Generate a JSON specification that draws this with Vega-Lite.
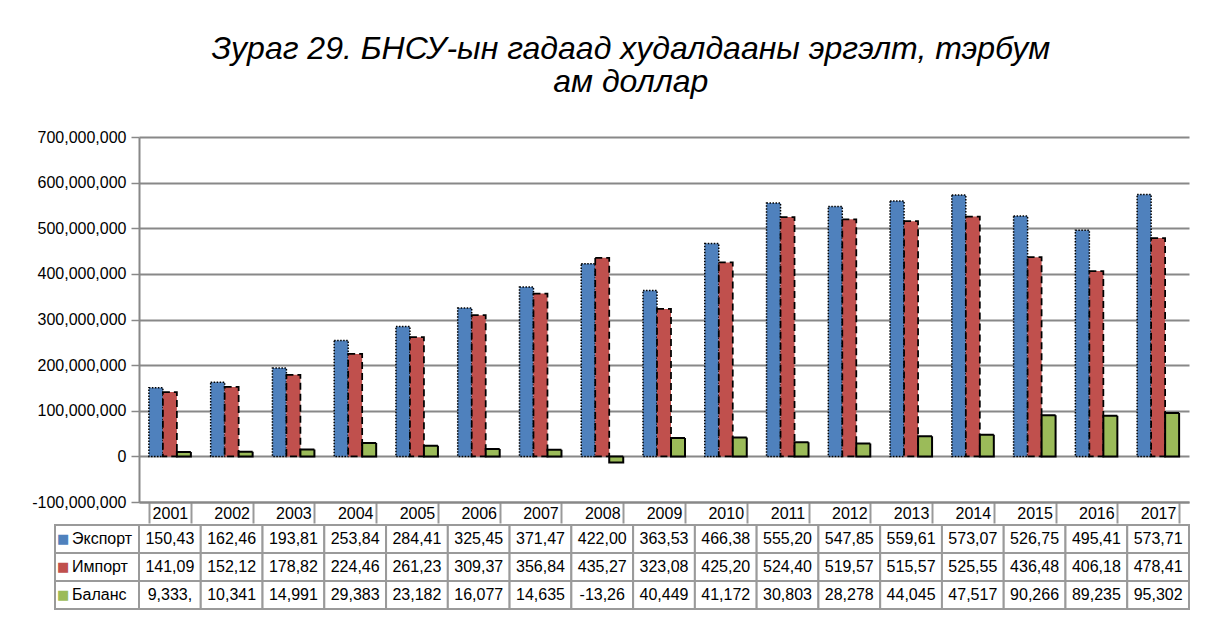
{
  "$schema": "https://vega.github.io/schema/vega-lite/v6.json",
  "padding": {"left": 31, "top": 33, "right": 20, "bottom": 10},
  "background": "white",
  "config": {
    "font": "Liberation Sans",
    "view": {"stroke": null},
    "concat": {"spacing": 0}
  },
  "title": {
    "text": ["Зураг 29. БНСУ-ын гадаад худалдааны эргэлт, тэрбум", "ам доллар"],
    "fontSize": 32,
    "fontStyle": "italic",
    "fontWeight": "normal",
    "color": "black",
    "lineHeight": 33,
    "offset": 30,
    "dx": 20,
    "anchor": "middle"
  },
  "datasets": {
    "trade": [
      {"year": "2001", "series": "Экспорт", "value": 150430000, "label": "150,43"},
      {"year": "2002", "series": "Экспорт", "value": 162460000, "label": "162,46"},
      {"year": "2003", "series": "Экспорт", "value": 193810000, "label": "193,81"},
      {"year": "2004", "series": "Экспорт", "value": 253840000, "label": "253,84"},
      {"year": "2005", "series": "Экспорт", "value": 284410000, "label": "284,41"},
      {"year": "2006", "series": "Экспорт", "value": 325450000, "label": "325,45"},
      {"year": "2007", "series": "Экспорт", "value": 371470000, "label": "371,47"},
      {"year": "2008", "series": "Экспорт", "value": 422000000, "label": "422,00"},
      {"year": "2009", "series": "Экспорт", "value": 363530000, "label": "363,53"},
      {"year": "2010", "series": "Экспорт", "value": 466380000, "label": "466,38"},
      {"year": "2011", "series": "Экспорт", "value": 555200000, "label": "555,20"},
      {"year": "2012", "series": "Экспорт", "value": 547850000, "label": "547,85"},
      {"year": "2013", "series": "Экспорт", "value": 559610000, "label": "559,61"},
      {"year": "2014", "series": "Экспорт", "value": 573070000, "label": "573,07"},
      {"year": "2015", "series": "Экспорт", "value": 526750000, "label": "526,75"},
      {"year": "2016", "series": "Экспорт", "value": 495410000, "label": "495,41"},
      {"year": "2017", "series": "Экспорт", "value": 573710000, "label": "573,71"},
      {"year": "2001", "series": "Импорт", "value": 141090000, "label": "141,09"},
      {"year": "2002", "series": "Импорт", "value": 152120000, "label": "152,12"},
      {"year": "2003", "series": "Импорт", "value": 178820000, "label": "178,82"},
      {"year": "2004", "series": "Импорт", "value": 224460000, "label": "224,46"},
      {"year": "2005", "series": "Импорт", "value": 261230000, "label": "261,23"},
      {"year": "2006", "series": "Импорт", "value": 309370000, "label": "309,37"},
      {"year": "2007", "series": "Импорт", "value": 356840000, "label": "356,84"},
      {"year": "2008", "series": "Импорт", "value": 435270000, "label": "435,27"},
      {"year": "2009", "series": "Импорт", "value": 323080000, "label": "323,08"},
      {"year": "2010", "series": "Импорт", "value": 425200000, "label": "425,20"},
      {"year": "2011", "series": "Импорт", "value": 524400000, "label": "524,40"},
      {"year": "2012", "series": "Импорт", "value": 519570000, "label": "519,57"},
      {"year": "2013", "series": "Импорт", "value": 515570000, "label": "515,57"},
      {"year": "2014", "series": "Импорт", "value": 525550000, "label": "525,55"},
      {"year": "2015", "series": "Импорт", "value": 436480000, "label": "436,48"},
      {"year": "2016", "series": "Импорт", "value": 406180000, "label": "406,18"},
      {"year": "2017", "series": "Импорт", "value": 478410000, "label": "478,41"},
      {"year": "2001", "series": "Баланс", "value": 9333000, "label": "9,333,"},
      {"year": "2002", "series": "Баланс", "value": 10341000, "label": "10,341"},
      {"year": "2003", "series": "Баланс", "value": 14991000, "label": "14,991"},
      {"year": "2004", "series": "Баланс", "value": 29383000, "label": "29,383"},
      {"year": "2005", "series": "Баланс", "value": 23182000, "label": "23,182"},
      {"year": "2006", "series": "Баланс", "value": 16077000, "label": "16,077"},
      {"year": "2007", "series": "Баланс", "value": 14635000, "label": "14,635"},
      {"year": "2008", "series": "Баланс", "value": -13260000, "label": "-13,26"},
      {"year": "2009", "series": "Баланс", "value": 40449000, "label": "40,449"},
      {"year": "2010", "series": "Баланс", "value": 41172000, "label": "41,172"},
      {"year": "2011", "series": "Баланс", "value": 30803000, "label": "30,803"},
      {"year": "2012", "series": "Баланс", "value": 28278000, "label": "28,278"},
      {"year": "2013", "series": "Баланс", "value": 44045000, "label": "44,045"},
      {"year": "2014", "series": "Баланс", "value": 47517000, "label": "47,517"},
      {"year": "2015", "series": "Баланс", "value": 90266000, "label": "90,266"},
      {"year": "2016", "series": "Баланс", "value": 89235000, "label": "89,235"},
      {"year": "2017", "series": "Баланс", "value": 95302000, "label": "95,302"}
    ]
  },
  "vconcat": [
    {
      "width": 1050,
      "height": 365,
      "data": {"name": "trade"},
      "mark": {"type": "bar"},
      "encoding": {
        "x": {
          "field": "year",
          "type": "nominal",
          "title": null,
          "scale": {"paddingInner": 0.32, "paddingOuter": 0.16},
          "axis": {
            "labelAngle": 0,
            "tickBand": "extent",
            "tickSize": 21,
            "tickColor": "#9a9a9a",
            "tickWidth": 2,
            "labelPadding": -18,
            "labelFontSize": 16,
            "labelColor": "black",
            "domainColor": "#888888",
            "domainWidth": 2
          }
        },
        "xOffset": {
          "field": "series",
          "type": "nominal",
          "sort": ["Экспорт", "Импорт", "Баланс"],
          "scale": {"paddingInner": 0, "paddingOuter": 0}
        },
        "y": {
          "field": "value",
          "type": "quantitative",
          "title": null,
          "scale": {"domain": [-100000000, 700000000], "nice": false, "zero": false},
          "axis": {
            "values": [-100000000, 0, 100000000, 200000000, 300000000, 400000000, 500000000, 600000000, 700000000],
            "labelExpr": "replace(format(datum.value, ','), '−', '-')",
            "labelFontSize": 16,
            "labelColor": "black",
            "labelPadding": 5,
            "tickSize": 8,
            "tickColor": "#888888",
            "tickWidth": 1.5,
            "domainColor": "#888888",
            "domainWidth": 2,
            "grid": true,
            "gridColor": "#888888",
            "gridWidth": 2
          }
        },
        "color": {
          "field": "series",
          "type": "nominal",
          "scale": {"domain": ["Экспорт", "Импорт", "Баланс"], "range": ["#4F81BD", "#C0504D", "#9BBB59"]},
          "legend": null
        },
        "stroke": {"value": "black"},
        "strokeWidth": {
          "field": "series",
          "type": "nominal",
          "scale": {"domain": ["Экспорт", "Импорт", "Баланс"], "range": [1.5, 2, 2]},
          "legend": null
        },
        "strokeDash": {
          "field": "series",
          "type": "nominal",
          "scale": {"domain": ["Экспорт", "Импорт", "Баланс"], "range": [[1.5, 1.5], [7, 4], [1, 0]]},
          "legend": null
        }
      }
    },
    {
      "width": 1050,
      "height": 84,
      "data": {"name": "trade"},
      "encoding": {
        "y": {
          "field": "series",
          "type": "nominal",
          "sort": ["Экспорт", "Импорт", "Баланс"],
          "scale": {"paddingInner": 0, "paddingOuter": 0},
          "axis": null
        }
      },
      "layer": [
        {
          "mark": {"type": "rect", "fill": "white", "stroke": "#9a9a9a", "strokeWidth": 2},
          "encoding": {
            "x": {"field": "year", "type": "nominal", "scale": {"paddingInner": 0, "paddingOuter": 0}, "axis": null}
          }
        },
        {
          "mark": {"type": "text", "fontSize": 16, "color": "black", "align": "center", "baseline": "middle"},
          "encoding": {
            "x": {"field": "year", "type": "nominal", "scale": {"paddingInner": 0, "paddingOuter": 0}, "axis": null},
            "text": {"field": "label", "type": "nominal"}
          }
        },
        {
          "transform": [{"filter": "datum.year === '2001'"}],
          "mark": {"type": "rect", "fill": "white", "stroke": "#9a9a9a", "strokeWidth": 2},
          "encoding": {
            "x": {"datum": "legend", "type": "nominal", "scale": {"domain": ["legend"], "range": [-84, 0], "paddingInner": 0, "paddingOuter": 0}, "axis": null}
          }
        },
        {
          "transform": [{"filter": "datum.year === '2001'"}],
          "mark": {"type": "text", "text": "■", "fontSize": 13, "font": "DejaVu Sans", "align": "left", "baseline": "middle", "dx": 2},
          "encoding": {
            "x": {"datum": "legend", "type": "nominal", "scale": {"type": "point", "domain": ["legend"], "range": [-84, 0], "padding": 0, "align": 0}, "axis": null},
            "color": {
              "field": "series",
              "type": "nominal",
              "scale": {"domain": ["Экспорт", "Импорт", "Баланс"], "range": ["#4F81BD", "#C0504D", "#9BBB59"]},
              "legend": null
            }
          }
        },
        {
          "transform": [{"filter": "datum.year === '2001'"}],
          "mark": {"type": "text", "fontSize": 16, "color": "black", "align": "left", "baseline": "middle", "dx": 17},
          "encoding": {
            "x": {"datum": "legend", "type": "nominal", "scale": {"type": "point", "domain": ["legend"], "range": [-84, 0], "padding": 0, "align": 0}, "axis": null},
            "text": {"field": "series", "type": "nominal"}
          }
        }
      ],
      "resolve": {"scale": {"x": "independent", "color": "independent"}}
    }
  ]
}
